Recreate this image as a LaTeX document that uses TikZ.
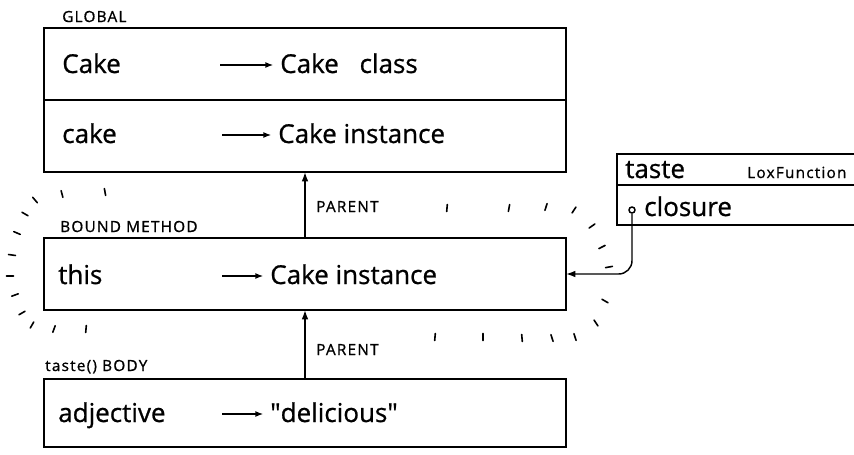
\documentclass[tikz,border=0pt]{standalone}
\usepackage{fontspec}
\setmainfont{Open Sans}
\newfontfamily\handfont[FakeBold=0.8]{Open Sans}
\newfontfamily\tagfont[LetterSpace=8,FakeBold=1]{Open Sans}
\usetikzlibrary{arrows.meta}

\begin{document}
\begin{tikzpicture}[x=0.75pt,y=-0.75pt,
  boxnode/.style={draw,line width=1.1pt,inner sep=0pt,outer sep=0pt},
  keynode/.style={anchor=base west,inner sep=0pt,font=\handfont\fontsize{19.5}{22}\selectfont},
  tagnode/.style={anchor=base west,inner sep=0pt,font=\tagfont\fontsize{11.5}{13}\selectfont},
  base/.style={line width=2pt},
  arr/.style={-{Latex[length=6pt,width=4.5pt]},line width=1.1pt},
  parr/.style={-{Latex[length=7pt,width=5pt]},line width=1.1pt},
  glint/.style={line width=1.2pt,line cap=round}]
\useasboundingbox (0,0) rectangle (854,454);
% environments
\node[boxnode,minimum width=391.5pt,minimum height=108pt] (global) at (305,100) {};
\node[boxnode,minimum width=391.5pt,minimum height=54pt] (bound) at (305,274) {};
\node[boxnode,minimum width=391.5pt,minimum height=51pt] (body) at (305,413) {};
\node[boxnode,minimum width=197.25pt,minimum height=53.25pt] (fn) at (748.5,189.5) {};
\foreach \b in {global,bound,body,fn} {\draw[base] (\b.south west) -- (\b.south east);}
\draw[line width=1.1pt] (global.west) -- (global.east);
\draw[line width=1.1pt] (fn.north west) ++(0,31) -- ++(263,0);
% labels
\node[tagnode] (lglobal) at (62,22) {GLOBAL};
\node[tagnode] (lbound) at (60,232) {BOUND METHOD};
\node[tagnode] (lbody) at (45,371) {taste() BODY};
\node[tagnode] (par1) at (316,212) {PARENT};
\node[tagnode] (par2) at (316,355) {PARENT};
% entries
\node[keynode] (kcake) at (62,73) {Cake};
\node[keynode] (vclass) at (280,73) {Cake\hspace{0.8em}class};
\node[keynode] (kinst) at (62,143) {cake};
\node[keynode] (vinst1) at (278,143) {Cake instance};
\node[keynode] (kthis) at (58,284) {this};
\node[keynode] (vinst2) at (270,284) {Cake instance};
\node[keynode] (kadj) at (58,422) {adjective};
\node[keynode] (vdel) at (270,422) {\textquotedbl delicious\textquotedbl};
\coordinate (t1) at (220,65);
\coordinate (t2) at (222,135);
\coordinate (t3) at (222,276);
\coordinate (t4) at (222,414);
\foreach \t/\v in {t1/vclass,t2/vinst1,t3/vinst2,t4/vdel} {\draw[arr,shorten >=5pt] (\t) -- (\t -| \v.west);}
% function object
\node[keynode] (ktaste) at (625,178) {taste};
\node[tagnode] (lfn) at (747,178) {LoxFunction};
\node[keynode] (kclos) at (644,216) {closure};
\node[circle,draw,line width=1.1pt,inner sep=0pt,minimum size=4.5pt] (dot) at (632,210) {};
% parent chain
\draw[parr] (bound.north) -- (global.south);
\draw[parr] (body.north) -- (bound.south);
\draw[parr,rounded corners=10pt] (dot.south) |- (bound.east);
% glow round the bound method
\foreach \x/\y/\a in {35/200/-130,62/194/-105,105/192/-100,25/214/-150,17/233/-157,
  12/255/-172,10/276/180,15/295/160,22/313/150,32/325/120,54/329/110,86/329/95,
  447/208/-85,509/208/-80,546/207/-72,574/210/-57,592/226/-35,602/247/-27,609/267/-10,
  605/301/30,596/323/57,575/337/72,552/338/72,522/338/85,483/337/90,435/337/95}
  {\draw[glint] (\x,\y) ++(\a:-3.5) -- ++(\a:7);}
\end{tikzpicture}
\end{document}
